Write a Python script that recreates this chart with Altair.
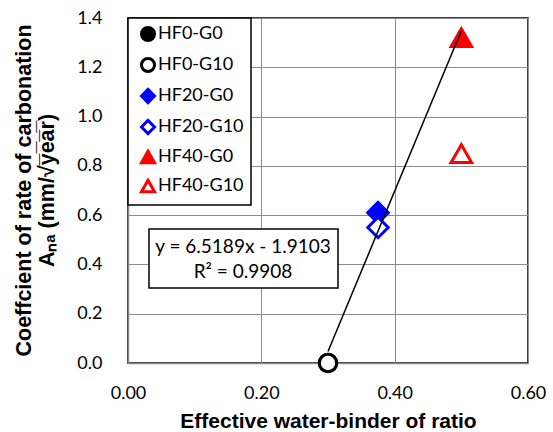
import altair as alt
import pandas as pd

# ---- data ----
series = ["HF0-G0", "HF0-G10", "HF20-G0", "HF20-G10", "HF40-G0", "HF40-G10"]
wb_ratio = [0.30, 0.30, 0.375, 0.375, 0.50, 0.50]
a_na = [0.00, 0.00, 0.61, 0.55, 1.32, 0.85]
gypsum = ["G0", "G10", "G0", "G10", "G0", "G10"]

x_ticks = [0.0, 0.2, 0.4, 0.6]
y_ticks = [0.0, 0.2, 0.4, 0.6, 0.8, 1.0, 1.2, 1.4]
equation = "y = 6.5189x - 1.9103"
r_squared = "R² = 0.9908"

# ---- styles ----
shapes = ["circle", "circle", "diamond", "diamond", "triangle-up", "triangle-up"]
fills = ["#000000", "#FFFFFF", "#0000FF", "#FFFFFF", "#FF0000", "#FFFFFF"]
strokes = ["#000000", "#000000", "#0000FF", "#0000FF", "#FF0000", "#FF0000"]
marker_area = [300, 300, 420, 420, 420, 420]

df = pd.DataFrame({
    "series": series,
    "x": wb_ratio,
    "y": a_na,
    "group": gypsum,
    "msize": marker_area,
})

x_enc = alt.X(
    "x:Q",
    scale=alt.Scale(domain=[0, 0.6], nice=False, zero=False),
    axis=alt.Axis(
        values=x_ticks, format=".2f", title="Effective water-binder of ratio",
        ticks=False, labelPadding=21, labelFlush=False,
        titleFontSize=21, titleBaseline="middle", titleY=58,
    ),
)
y_enc = alt.Y(
    "y:Q",
    scale=alt.Scale(domain=[0, 1.4], nice=False),
    axis=alt.Axis(
        values=y_ticks, format=".1f",
        title=["Coeffcient of rate of carbonation", "Aₙₐ  (mm/√y̅e̅a̅r̅)"],
        ticks=False, labelPadding=26, labelFlush=False,
        titleAngle=270, titleAlign="center",
        titleBaseline="top", titleX=-115, titleY=172, titleLineHeight=23,
    ),
)

points = alt.Chart(df).mark_point(strokeWidth=3, opacity=1).encode(
    x=x_enc,
    y=y_enc,
    shape=alt.Shape("series:N", scale=alt.Scale(domain=series, range=shapes),
                    legend=alt.Legend(title=None)),
    fill=alt.Fill("series:N", scale=alt.Scale(domain=series, range=fills),
                  legend=alt.Legend(title=None)),
    stroke=alt.Stroke("series:N", scale=alt.Scale(domain=series, range=strokes),
                      legend=alt.Legend(title=None)),
    size=alt.Size("msize:Q", scale=None),
)

trend = (
    alt.Chart(df)
    .transform_filter(alt.datum.group == "G0")
    .transform_regression("x", "y")
    .mark_line(color="black", strokeWidth=1.5)
    .encode(x="x:Q", y="y:Q")
)

box_src = pd.DataFrame({"k": [0]})
eq_box = alt.Chart(box_src).mark_rect(fill="white", stroke="black", strokeWidth=1.5).encode(
    x=alt.value(21), x2=alt.value(210), y=alt.value(211), y2=alt.value(270)
)
eq_text1 = alt.Chart(box_src).mark_text(font="Lato", fontSize=19, align="center",
                                        baseline="middle", color="black").encode(
    x=alt.value(115), y=alt.value(229), text=alt.value(equation)
)
eq_text2 = alt.Chart(box_src).mark_text(font="Lato", fontSize=19, align="center",
                                        baseline="middle", color="black").encode(
    x=alt.value(115), y=alt.value(254), text=alt.value(r_squared)
)

chart = (
    alt.layer(points, trend, eq_box, eq_text1, eq_text2)
    .properties(
        width=400, height=345,
        autosize=alt.AutoSizeParams(type="none"),
        padding={"left": 128, "top": 18, "right": 25, "bottom": 69},
    )
    .configure_view(stroke="black", strokeWidth=1.5)
    .configure_axis(
        domainColor="#868686", domainWidth=1.5,
        gridColor="#8C8C8C", gridWidth=1,
        labelFont="Lato", labelFontSize=18, labelColor="black",
        titleFont="Liberation Sans", titleFontSize=21.5, titleFontWeight="bold",
        titleColor="black",
    )
    .configure_legend(
        orient="top-left", offset=0, padding=7,
        strokeColor="black", strokeWidth=1.5, fillColor="white",
        labelFont="Lato", labelFontSize=18, labelColor="black",
        symbolSize=170, symbolStrokeWidth=3, rowPadding=5, labelOffset=1,
        symbolOffset=4,
    )
)

chart.save("out.html", embed_options={"renderer": "svg", "actions": False})
